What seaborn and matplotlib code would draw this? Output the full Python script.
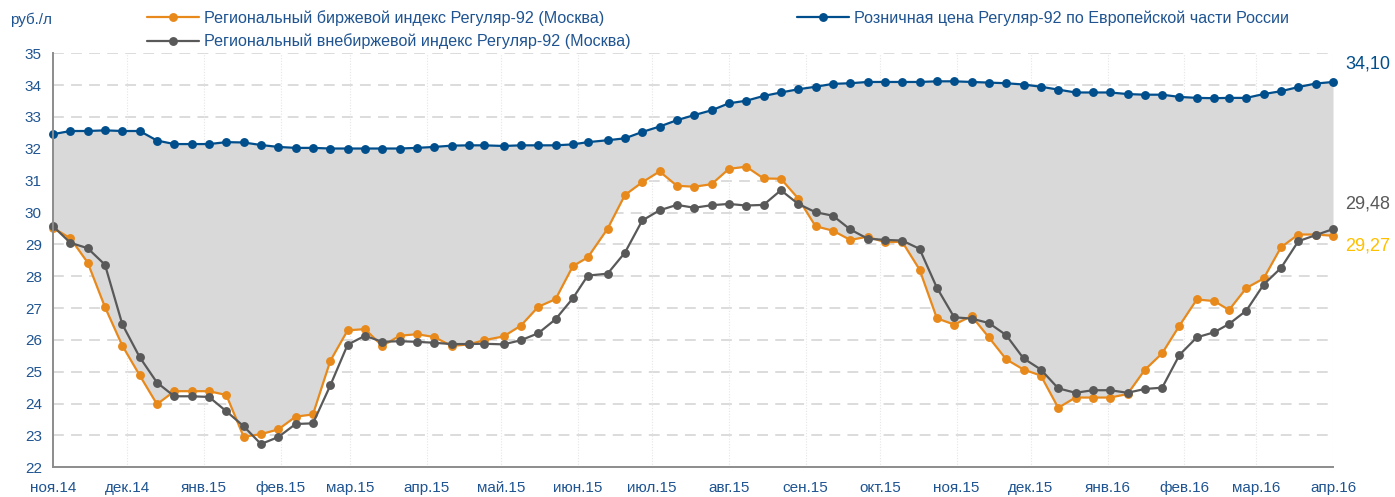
import matplotlib
matplotlib.use("Agg")
import matplotlib.pyplot as plt
from matplotlib.lines import Line2D
import seaborn as sns
import pandas as pd

# Weekly observation dates
dates = [
    "2014-11-01", "2014-11-08", "2014-11-15", "2014-11-22", "2014-11-29",
    "2014-12-06", "2014-12-13", "2014-12-20", "2014-12-27", "2015-01-03",
    "2015-01-10", "2015-01-17", "2015-01-24", "2015-01-31", "2015-02-07",
    "2015-02-14", "2015-02-21", "2015-02-28", "2015-03-07", "2015-03-14",
    "2015-03-21", "2015-03-28", "2015-04-04", "2015-04-11", "2015-04-18",
    "2015-04-24", "2015-05-02", "2015-05-09", "2015-05-16", "2015-05-23",
    "2015-05-30", "2015-06-05", "2015-06-13", "2015-06-20", "2015-06-27",
    "2015-07-04", "2015-07-11", "2015-07-18", "2015-07-25", "2015-08-01",
    "2015-08-08", "2015-08-15", "2015-08-22", "2015-08-29", "2015-09-05",
    "2015-09-12", "2015-09-19", "2015-09-26", "2015-10-03", "2015-10-10",
    "2015-10-17", "2015-10-24", "2015-10-31", "2015-11-07", "2015-11-14",
    "2015-11-21", "2015-11-28", "2015-12-05", "2015-12-12", "2015-12-19",
    "2015-12-26", "2016-01-02", "2016-01-09", "2016-01-16", "2016-01-23",
    "2016-01-30", "2016-02-06", "2016-02-13", "2016-02-19", "2016-02-26",
    "2016-03-04", "2016-03-11", "2016-03-18", "2016-03-25", "2016-04-01",
]

# Retail price, European part of Russia
retail = [
    32.46, 32.56, 32.56, 32.58, 32.56, 32.56, 32.26, 32.15, 32.15, 32.15,
    32.21, 32.20, 32.12, 32.06, 32.03, 32.03, 32.01, 32.01, 32.01, 32.01,
    32.01, 32.03, 32.06, 32.10, 32.11, 32.11, 32.09, 32.11, 32.11, 32.11,
    32.14, 32.21, 32.27, 32.33, 32.53, 32.70, 32.90, 33.06, 33.21, 33.43,
    33.51, 33.66, 33.77, 33.87, 33.95, 34.04, 34.06, 34.10, 34.10, 34.10,
    34.10, 34.12, 34.12, 34.10, 34.08, 34.06, 34.02, 33.95, 33.86, 33.77,
    33.77, 33.77, 33.72, 33.70, 33.70, 33.63, 33.60, 33.59, 33.60, 33.60,
    33.72, 33.81, 33.94, 34.05, 34.10,
]

# Regional exchange index (Moscow)
exchange = [
    29.52, 29.19, 28.43, 27.03, 25.82, 24.89, 23.98, 24.39, 24.39, 24.39,
    24.27, 22.96, 23.04, 23.19, 23.59, 23.66, 25.34, 26.30, 26.34, 25.81,
    26.13, 26.18, 26.09, 25.81, 25.86, 25.99, 26.11, 26.45, 27.04, 27.28,
    28.32, 28.59, 29.49, 30.55, 30.95, 31.29, 30.84, 30.81, 30.89, 31.37,
    31.44, 31.07, 31.06, 30.44, 29.57, 29.43, 29.14, 29.24, 29.07, 29.08,
    28.21, 26.68, 26.48, 26.75, 26.08, 25.39, 25.07, 24.88, 23.87, 24.19,
    24.19, 24.19, 24.30, 25.06, 25.58, 26.45, 27.27, 27.22, 26.94, 27.63,
    27.93, 28.91, 29.31, 29.31, 29.27,
]

# Regional off-exchange index (Moscow)
otc = [
    29.57, 29.05, 28.88, 28.36, 26.49, 25.46, 24.66, 24.23, 24.23, 24.21,
    23.76, 23.29, 22.73, 22.95, 23.36, 23.38, 24.57, 25.85, 26.13, 25.94,
    25.96, 25.94, 25.91, 25.87, 25.87, 25.88, 25.86, 25.99, 26.21, 26.65,
    27.31, 28.02, 28.08, 28.74, 29.75, 30.07, 30.24, 30.15, 30.23, 30.27,
    30.22, 30.24, 30.70, 30.27, 30.01, 29.90, 29.47, 29.18, 29.14, 29.12,
    28.86, 27.64, 26.71, 26.67, 26.53, 26.15, 25.42, 25.07, 24.48, 24.34,
    24.42, 24.42, 24.34, 24.46, 24.50, 25.53, 26.08, 26.24, 26.50, 26.92,
    27.74, 28.26, 29.10, 29.29, 29.48,
]

month_labels = [
    "ноя.14", "дек.14", "янв.15", "фев.15", "мар.15", "апр.15", "май.15",
    "июн.15", "июл.15", "авг.15", "сен.15", "окт.15", "ноя.15", "дек.15",
    "янв.16", "фев.16", "мар.16", "апр.16",
]

name_exchange = "Региональный биржевой индекс Регуляр-92 (Москва)"
name_otc = "Региональный внебиржевой индекс Регуляр-92 (Москва)"
name_retail = "Розничная цена Регуляр-92 по Европейской части России"

BLUE = "#004e8c"
ORANGE = "#e8891c"
GREY = "#595959"
TEXT = "#1f5491"
FILL = "#d9d9d9"

sns.set_theme(style="white")
plt.rcParams["font.family"] = ["Liberation Sans", "DejaVu Sans"]

df = pd.DataFrame({
    "date": pd.to_datetime(dates),
    "retail": retail,
    "exchange": exchange,
    "otc": otc,
})

W, H = 1395, 497
fig = plt.figure(figsize=(W / 100, H / 100), dpi=100)
ax = fig.add_axes([53 / W, 29.7 / H, 1280 / W, 414 / H])

# Spread between retail price and the exchange index
ax.fill_between(df["date"], df["exchange"], df["retail"], color=FILL,
                linewidth=0, zorder=1)

line_kw = dict(marker="o", markersize=6.4, linewidth=1.6, markeredgewidth=0,
               ax=ax, zorder=3)
sns.lineplot(data=df, x="date", y="exchange", color=ORANGE, **line_kw)
sns.lineplot(data=df, x="date", y="otc", color=GREY, **line_kw)
sns.lineplot(data=df, x="date", y="retail", color=BLUE, **line_kw)
for ln in ax.lines:
    ln.set_clip_on(False)

month_ticks = pd.date_range("2014-11-01", "2016-04-01", freq="MS")
ax.set_xlim(month_ticks[0], month_ticks[-1])
ax.set_ylim(22, 35)
ax.set_xticks(month_ticks)
ax.set_xticklabels(month_labels)
ax.set_yticks(range(22, 36))
ax.set_xlabel("")
ax.set_ylabel("")

ax.grid(False)
for y in range(23, 36):
    ax.axhline(y, color="#d9d9d9", linewidth=1.3, linestyle=(0, (6, 4)),
               zorder=0)
for t in month_ticks[1:]:
    ax.axvline(t, color="#e6e6e6", linewidth=0.8, linestyle=(0, (1, 1.5)),
               zorder=0)

for side in ("top", "right"):
    ax.spines[side].set_visible(False)
for side in ("left", "bottom"):
    ax.spines[side].set_color("#8c8c8c")
    ax.spines[side].set_linewidth(1.4)
    ax.spines[side].set_zorder(4)

ax.tick_params(axis="both", which="major", direction="out", length=4,
               width=1.2, color="#8c8c8c", labelsize=11, labelcolor=TEXT)
ax.tick_params(axis="x", pad=6)
ax.tick_params(axis="y", pad=4)

fig.text(10 / W, 1 - 20 / H, "руб./л", color=TEXT, fontsize=11,
         ha="left", va="center")

# End-of-series value labels
def fmt(v):
    return f"{v:.2f}".replace(".", ",")

last = df["date"].iloc[-1]
for val, color, dy in ((retail[-1], BLUE, 18), (otc[-1], GREY, 25),
                       (exchange[-1], "#ffc000", -10)):
    ax.annotate(fmt(val), xy=(last, val), xytext=(12, dy),
                textcoords="offset pixels", ha="left", va="center",
                fontsize=13, color=color, annotation_clip=False)

def handle(color):
    return Line2D([], [], color=color, linewidth=1.6, marker="o",
                  markersize=6.4, markeredgewidth=0)

leg_kw = dict(frameon=False, fontsize=11.6, handlelength=3.2,
              handletextpad=0.35, borderpad=0, borderaxespad=0,
              labelcolor=TEXT, loc="upper left")
leg1 = fig.legend([handle(ORANGE), handle(GREY)], [name_exchange, name_otc],
                  bbox_to_anchor=(147 / W, 1 - 10 / H), labelspacing=0.48,
                  **leg_kw)
leg2 = fig.legend([handle(BLUE)], [name_retail],
                  bbox_to_anchor=(797 / W, 1 - 10 / H), **leg_kw)

fig.savefig("out.png", dpi=100)
